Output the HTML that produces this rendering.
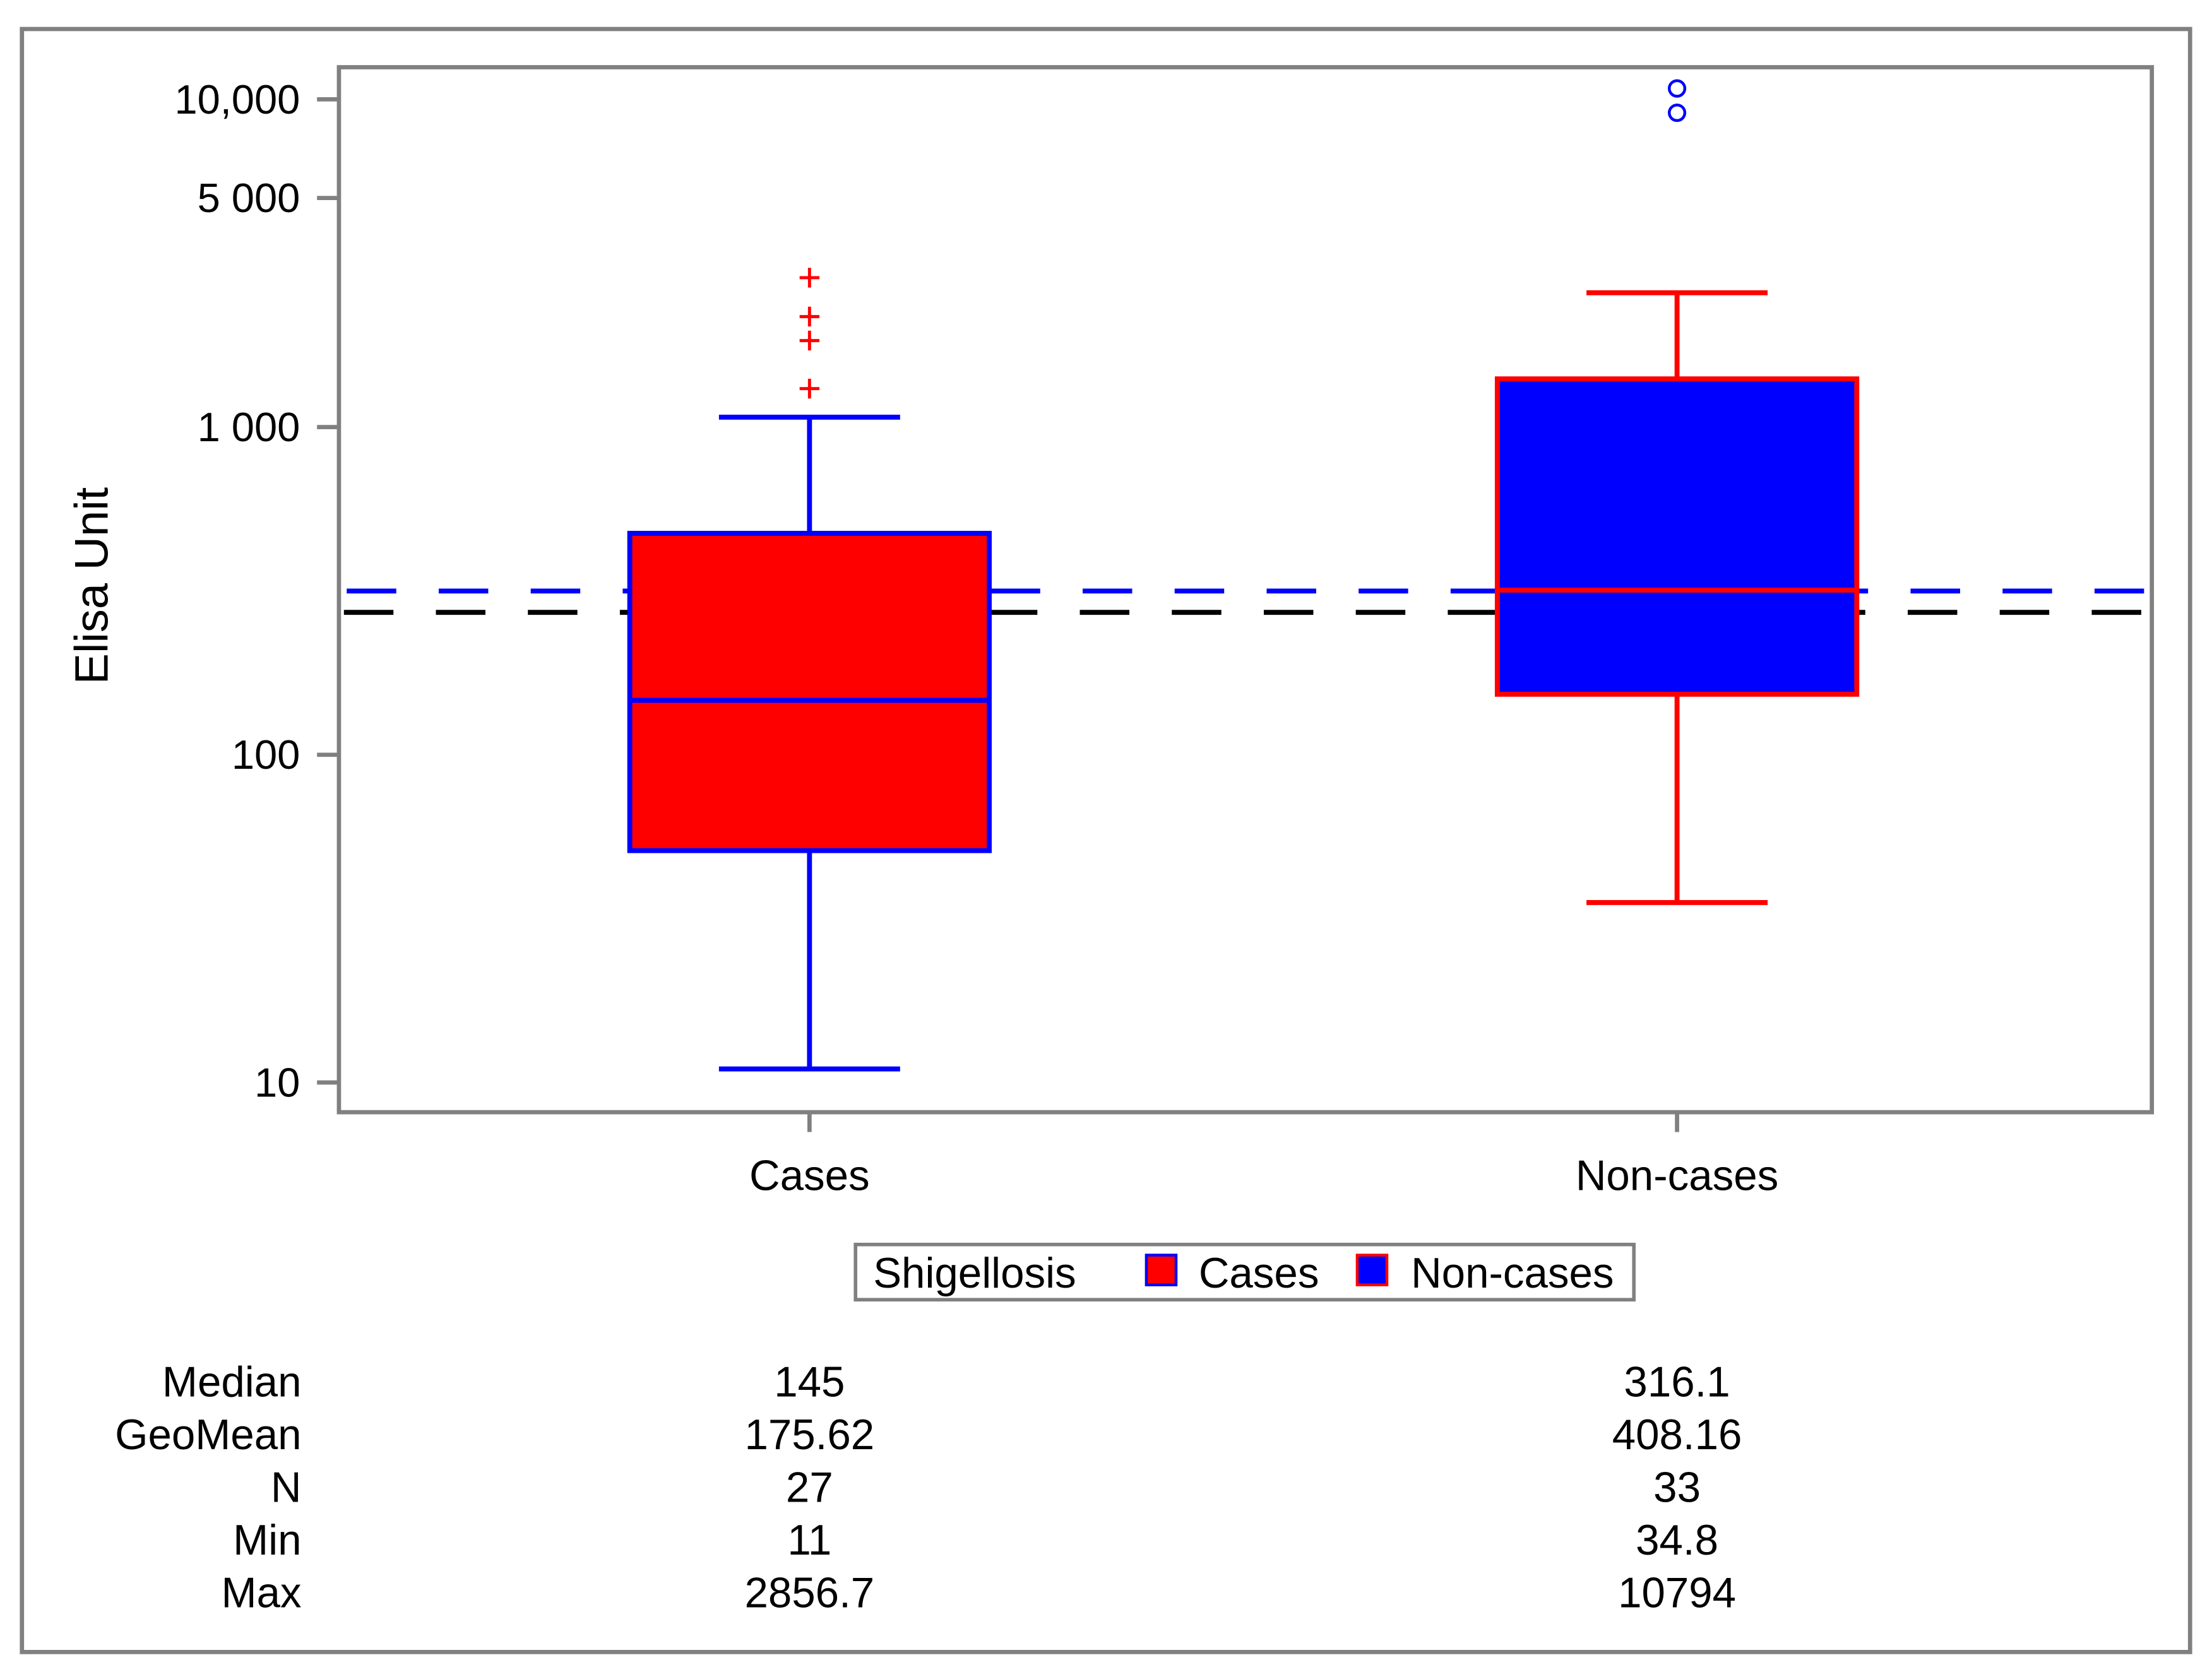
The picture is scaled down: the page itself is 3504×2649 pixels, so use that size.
<!DOCTYPE html>
<html><head><meta charset="utf-8"><style>
html,body{margin:0;padding:0;background:#fff;}
svg{display:block;font-family:"Liberation Sans",sans-serif;}
</style></head><body>
<svg id="chart" width="3504" height="2649" viewBox="0 0 1563 1181.6">
<rect x="15.5" y="20.5" width="1532" height="1147" fill="#fff" stroke="#808080" stroke-width="3"/>
<g id="plot"></g>
<rect x="239.5" y="47.5" width="1281" height="738.5" fill="none" stroke="#808080" stroke-width="3"/>
<text x="0" y="0" transform="translate(76,414) rotate(-90)" text-anchor="middle" font-size="33" fill="#000">Elisa Unit</text>
<g>
<rect x="604.5" y="879.5" width="550" height="39" fill="#fff" stroke="#808080" stroke-width="2.5"/>
<text x="617" y="910" font-size="30">Shigellosis</text>
<rect x="810" y="887" width="21" height="21" fill="#ff0000" stroke="#0000ff" stroke-width="2"/>
<text x="847" y="910" font-size="30">Cases</text>
<rect x="959" y="887" width="21" height="21" fill="#0000ff" stroke="#ff0000" stroke-width="2"/>
<text x="997" y="910" font-size="30">Non-cases</text>
</g>
<g id="stats"></g>
</svg>
<script>
const categories = ["Cases", "Non-cases"];
const q1 = [51, 153];
const medians = [146.6, 318];
const q3 = [474, 1403];
const whiskerLow = [11, 35.4];
const whiskerHigh = [1072, 2570];
const outliersCases = [2856.7, 2173, 1836, 1310];
const outliersNonCases = [10794, 9100];
const refBlue = 316;
const refBlack = 272;
const yTicks = [10, 100, 1000, 5000, 10000];
const yTickLabels = ["10", "100", "1 000", "5 000", "10,000"];
const statLabels = ["Median", "GeoMean", "N", "Min", "Max"];
const statsCases = ["145", "175.62", "27", "11", "2856.7"];
const statsNonCases = ["316.1", "408.16", "33", "34.8", "10794"];

const NS = "http://www.w3.org/2000/svg";
const svg = document.getElementById('chart');
const plot = document.getElementById('plot');
const stats = document.getElementById('stats');
function y(v){ return 765 - (Math.log10(v) - 1) * 231.6; }
function x(i){ return 572 + i * 613; }
function mk(tag, attrs, parent){ const e=document.createElementNS(NS,tag); for(const k in attrs) e.setAttribute(k,attrs[k]); (parent||plot).appendChild(e); return e; }

let l = mk('line',{x1:241,x2:1519,y1:y(refBlue),y2:y(refBlue),stroke:'#0000ff','stroke-width':3.5,'stroke-dasharray':'35 30','stroke-dashoffset':'-4'});


l = mk('line',{x1:241,x2:1519,y1:y(refBlack),y2:y(refBlack),stroke:'#000','stroke-width':3.5,'stroke-dasharray':'35 30','stroke-dashoffset':'-2'});



const fills = ['#ff0000','#0000ff'];
const strokes = ['#0000ff','#ff0000'];
categories.forEach((c,i)=>{
  const cx = x(i), st = strokes[i];
  let e = mk('line',{x1:cx,x2:cx,y1:y(whiskerHigh[i]),y2:y(q3[i]),stroke:st,'stroke-width':3.5});
  
  
  e = mk('line',{x1:cx,x2:cx,y1:y(q1[i]),y2:y(whiskerLow[i]),stroke:st,'stroke-width':3.5});
  
  
  e = mk('line',{x1:cx-64,x2:cx+64,y1:y(whiskerHigh[i]),y2:y(whiskerHigh[i]),stroke:st,'stroke-width':3.5});
  
  
  e = mk('line',{x1:cx-64,x2:cx+64,y1:y(whiskerLow[i]),y2:y(whiskerLow[i]),stroke:st,'stroke-width':3.5});
  
  
  e = mk('rect',{x:cx-127,y:y(q3[i]),width:254,height:y(q1[i])-y(q3[i]),fill:fills[i],stroke:st,'stroke-width':3.5});
  
  
  e = mk('line',{x1:cx-127,x2:cx+127,y1:y(medians[i]),y2:y(medians[i]),stroke:st,'stroke-width':3.5});
  
  
  e = mk('line',{x1:cx,x2:cx,y1:787,y2:800,stroke:'#808080','stroke-width':3},svg);
  
  
  e = mk('text',{x:cx,y:841,'text-anchor':'middle','font-size':30},svg);
  e.textContent = c;
  
  
});
outliersCases.forEach(v=>{
  const e = mk('path',{d:`M${x(0)-7} ${y(v)}h14M${x(0)} ${y(v)-7}v14`,stroke:'#ff0000','stroke-width':2.2,fill:'none'});
  
  
});
outliersNonCases.forEach(v=>{
  const e = mk('circle',{cx:x(1),cy:y(v),r:5.5,stroke:'#0000ff','stroke-width':2,fill:'none'});
  
  
});
yTicks.forEach((t,i)=>{
  let e = mk('line',{x1:224,x2:239,y1:y(t),y2:y(t),stroke:'#808080','stroke-width':3},svg);
  
  
  e = mk('text',{x:212,y:y(t)+10,'text-anchor':'end','font-size':29},svg);
  e.textContent = yTickLabels[i];
  
  
});
statLabels.forEach((s,i)=>{
  const yy = 987 + i*37.2;
  let e = mk('text',{x:213,y:yy,'text-anchor':'end','font-size':30},stats);
  e.textContent = s;
  
  
  e = mk('text',{x:x(0),y:yy,'text-anchor':'middle','font-size':30},stats);
  e.textContent = statsCases[i];
  
  
  e = mk('text',{x:x(1),y:yy,'text-anchor':'middle','font-size':30},stats);
  e.textContent = statsNonCases[i];
  
  
});
</script>
</body></html>
